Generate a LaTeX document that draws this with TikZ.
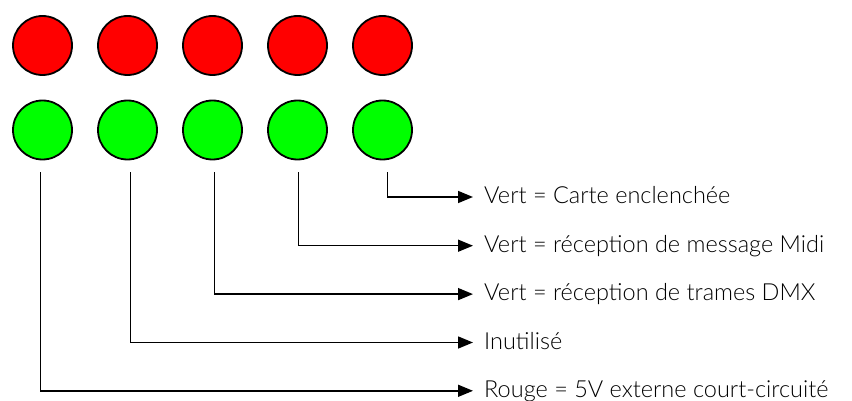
\documentclass[tikz,border=0pt]{standalone}
\usepackage{fontspec}
\setmainfont{Lato Light}
\usetikzlibrary{arrows.meta}
\definecolor{ledred}{RGB}{255,0,0}
\definecolor{ledgreen}{RGB}{0,255,0}
\begin{document}
\begin{tikzpicture}[x=1pt,y=-1pt,
  led/.style={circle,draw=black,line width=1.8pt,minimum size=59pt,inner sep=0pt},
  redled/.style={led,fill=ledred},
  greenled/.style={led,fill=ledgreen},
  wire/.style={line width=1.5pt,-{Triangle[length=15pt,width=12pt]}},
  lbl/.style={anchor=base west,inner sep=0pt,font=\fontsize{23.5}{26}\selectfont}]
\useasboundingbox (0,0) rectangle (852,401);

% two rows of LEDs
\foreach \i/\x in {1/42.5,2/127.5,3/212.5,4/297.5,5/382.5}{
  \node[redled] (r\i) at (\x,45.5) {};
  \node[greenled] (g\i) at (\x,130) {};
}

% start points of the leader lines below the green LEDs
\coordinate (s1) at (40.7,172.5);
\coordinate (s2) at (130.3,172.5);
\coordinate (s3) at (214.3,172.5);
\coordinate (s4) at (298.3,172.5);
\coordinate (s5) at (387.7,172.5);

% descriptions (baseline 6.5pt below the leader line)
\node[lbl] (l5) at (484,203.5) {Vert = Carte enclenchée};
\node[lbl] (l4) at (484,252.2) {Vert = réception de message Midi};
\node[lbl] (l3) at (484,300.6) {Vert = réception de trames DMX};
\node[lbl] (l2) at (484,349) {Inutilisé};
\node[lbl] (l1) at (484,397.3) {Rouge = 5V externe court-circuité};

% leader lines
\foreach \i in {1,...,5}{
  \draw[wire] (s\i) |- ([xshift=-11pt,yshift=6.5pt]l\i.base west);
}
\end{tikzpicture}
\end{document}
